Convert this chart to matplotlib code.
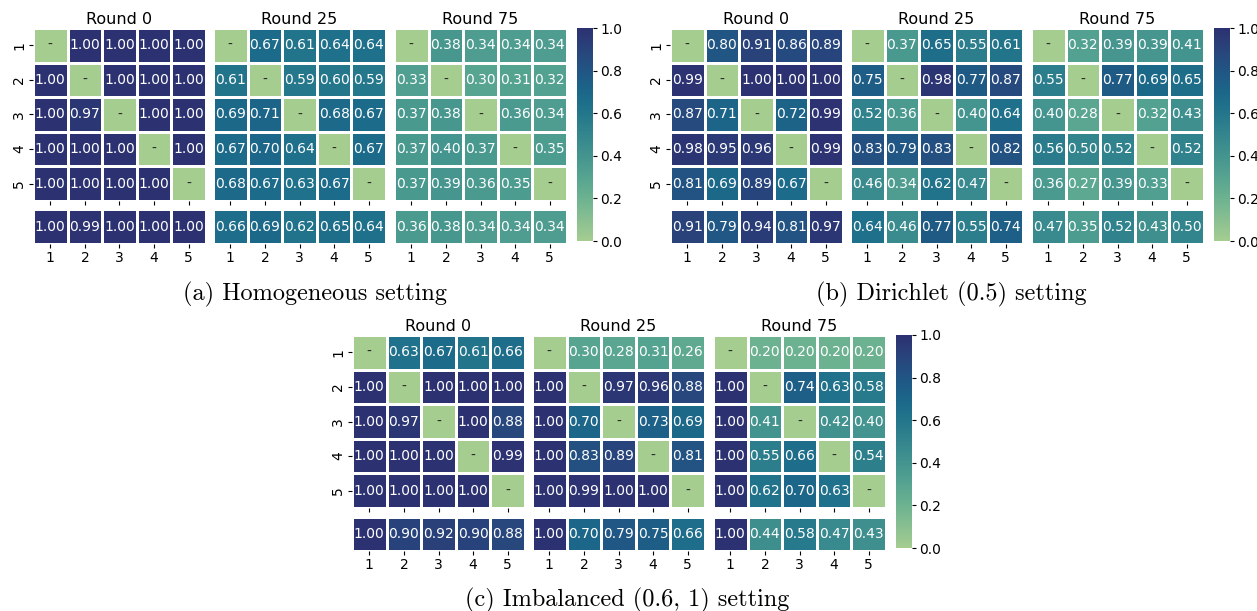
"""
Pairwise heatmaps for three data settings (rounds 0, 25, 75),
each with a 5x5 matrix, a summary row underneath and a colour bar.
"""

import matplotlib

matplotlib.use("Agg")
import matplotlib.pyplot as plt
import numpy as np
import seaborn as sns

N = np.nan

ROUNDS = ["Round 0", "Round 25", "Round 75"]
CLIENTS = ["1", "2", "3", "4", "5"]

# (a) homogeneous
homo_r0 = [[N, 1.00, 1.00, 1.00, 1.00],
           [1.00, N, 1.00, 1.00, 1.00],
           [1.00, 0.97, N, 1.00, 1.00],
           [1.00, 1.00, 1.00, N, 1.00],
           [1.00, 1.00, 1.00, 1.00, N]]
homo_r0_row = [1.00, 0.99, 1.00, 1.00, 1.00]
homo_r25 = [[N, 0.67, 0.61, 0.64, 0.64],
            [0.61, N, 0.59, 0.60, 0.59],
            [0.69, 0.71, N, 0.68, 0.67],
            [0.67, 0.70, 0.64, N, 0.67],
            [0.68, 0.67, 0.63, 0.67, N]]
homo_r25_row = [0.66, 0.69, 0.62, 0.65, 0.64]
homo_r75 = [[N, 0.38, 0.34, 0.34, 0.34],
            [0.33, N, 0.30, 0.31, 0.32],
            [0.37, 0.38, N, 0.36, 0.34],
            [0.37, 0.40, 0.37, N, 0.35],
            [0.37, 0.39, 0.36, 0.35, N]]
homo_r75_row = [0.36, 0.38, 0.34, 0.34, 0.34]

# (b) dirichlet 0.5
dir_r0 = [[N, 0.80, 0.91, 0.86, 0.89],
          [0.99, N, 1.00, 1.00, 1.00],
          [0.87, 0.71, N, 0.72, 0.99],
          [0.98, 0.95, 0.96, N, 0.99],
          [0.81, 0.69, 0.89, 0.67, N]]
dir_r0_row = [0.91, 0.79, 0.94, 0.81, 0.97]
dir_r25 = [[N, 0.37, 0.65, 0.55, 0.61],
           [0.75, N, 0.98, 0.77, 0.87],
           [0.52, 0.36, N, 0.40, 0.64],
           [0.83, 0.79, 0.83, N, 0.82],
           [0.46, 0.34, 0.62, 0.47, N]]
dir_r25_row = [0.64, 0.46, 0.77, 0.55, 0.74]
dir_r75 = [[N, 0.32, 0.39, 0.39, 0.41],
           [0.55, N, 0.77, 0.69, 0.65],
           [0.40, 0.28, N, 0.32, 0.43],
           [0.56, 0.50, 0.52, N, 0.52],
           [0.36, 0.27, 0.39, 0.33, N]]
dir_r75_row = [0.47, 0.35, 0.52, 0.43, 0.50]

# (c) imbalanced (0.6, 1)
imb_r0 = [[N, 0.63, 0.67, 0.61, 0.66],
          [1.00, N, 1.00, 1.00, 1.00],
          [1.00, 0.97, N, 1.00, 0.88],
          [1.00, 1.00, 1.00, N, 0.99],
          [1.00, 1.00, 1.00, 1.00, N]]
imb_r0_row = [1.00, 0.90, 0.92, 0.90, 0.88]
imb_r25 = [[N, 0.30, 0.28, 0.31, 0.26],
           [1.00, N, 0.97, 0.96, 0.88],
           [1.00, 0.70, N, 0.73, 0.69],
           [1.00, 0.83, 0.89, N, 0.81],
           [1.00, 0.99, 1.00, 1.00, N]]
imb_r25_row = [1.00, 0.70, 0.79, 0.75, 0.66]
imb_r75 = [[N, 0.20, 0.20, 0.20, 0.20],
           [1.00, N, 0.74, 0.63, 0.58],
           [1.00, 0.41, N, 0.42, 0.40],
           [1.00, 0.55, 0.66, N, 0.54],
           [1.00, 0.62, 0.70, 0.63, N]]
imb_r75_row = [1.00, 0.44, 0.58, 0.47, 0.43]

PANELS = [
    ("(a) Homogeneous setting",
     [(homo_r0, homo_r0_row), (homo_r25, homo_r25_row), (homo_r75, homo_r75_row)]),
    ("(b) Dirichlet (0.5) setting",
     [(dir_r0, dir_r0_row), (dir_r25, dir_r25_row), (dir_r75, dir_r75_row)]),
    ("(c) Imbalanced (0.6, 1) setting",
     [(imb_r0, imb_r0_row), (imb_r25, imb_r25_row), (imb_r75, imb_r75_row)]),
]

# pixel layout: heatmap left edges, top of matrix, colorbar left, caption centre
LAYOUT = [
    dict(xs=[33, 213, 394], top=28, cbar=577, cap=(315, 294)),
    dict(xs=[670, 850, 1031], top=28, cbar=1214, cap=(951, 294)),
    dict(xs=[352, 532, 713], top=335, cbar=896, cap=(627, 600)),
]

W, H = 1257, 611
CELL = 34.6
GAP = 8.5

cmap = sns.color_palette("crest", as_cmap=True)
fig = plt.figure(figsize=(W / 100, H / 100), dpi=100)


def px_axes(x, y, w, h):
    return fig.add_axes([x / W, 1 - (y + h) / H, w / W, h / H])


def draw(ax, data, ytick):
    arr = np.array(data, dtype=float)
    labels = np.where(np.isnan(arr), "-", np.char.mod("%.2f", np.nan_to_num(arr)))
    sns.heatmap(np.nan_to_num(arr, nan=0.0), ax=ax, cmap=cmap, vmin=0, vmax=1,
                annot=labels, fmt="", cbar=False, linewidths=0.8, linecolor="white",
                annot_kws={"fontsize": 10}, square=False)
    ax.tick_params(length=3, width=0.8, labelsize=10, pad=2)
    if ytick:
        ax.set_yticks(np.arange(arr.shape[0]) + 0.5)
        ax.set_yticklabels(CLIENTS, rotation=90, va="center")
    else:
        ax.set_yticks([])


for (caption, mats), lay in zip(PANELS, LAYOUT):
    top = lay["top"]
    for i, ((mat, row), x0) in enumerate(zip(mats, lay["xs"])):
        ax = px_axes(x0, top, 5 * CELL, 5 * CELL)
        draw(ax, mat, ytick=(i == 0))
        ax.set_xticks(np.arange(5) + 0.5)
        ax.set_xticklabels([])
        ax.set_title(ROUNDS[i], fontsize=11.5, pad=3)

        axr = px_axes(x0, top + 5 * CELL + GAP, 5 * CELL, CELL)
        draw(axr, [row], ytick=False)
        axr.set_xticks(np.arange(5) + 0.5)
        axr.set_xticklabels(CLIENTS, rotation=0)

    cax = px_axes(lay["cbar"], top, 16, 6 * CELL + GAP - 3)
    sm = matplotlib.cm.ScalarMappable(cmap=cmap, norm=plt.Normalize(0, 1))
    cb = fig.colorbar(sm, cax=cax, ticks=[0, 0.2, 0.4, 0.6, 0.8, 1.0])
    cb.outline.set_visible(False)
    cb.ax.tick_params(labelsize=10, length=3, width=0.8, pad=2)

    cx, cy = lay["cap"]
    fig.text(cx / W, 1 - cy / H, caption, ha="center", va="center",
             fontsize=17.5, family="cmr10")

fig.savefig("out.png", dpi=100)
